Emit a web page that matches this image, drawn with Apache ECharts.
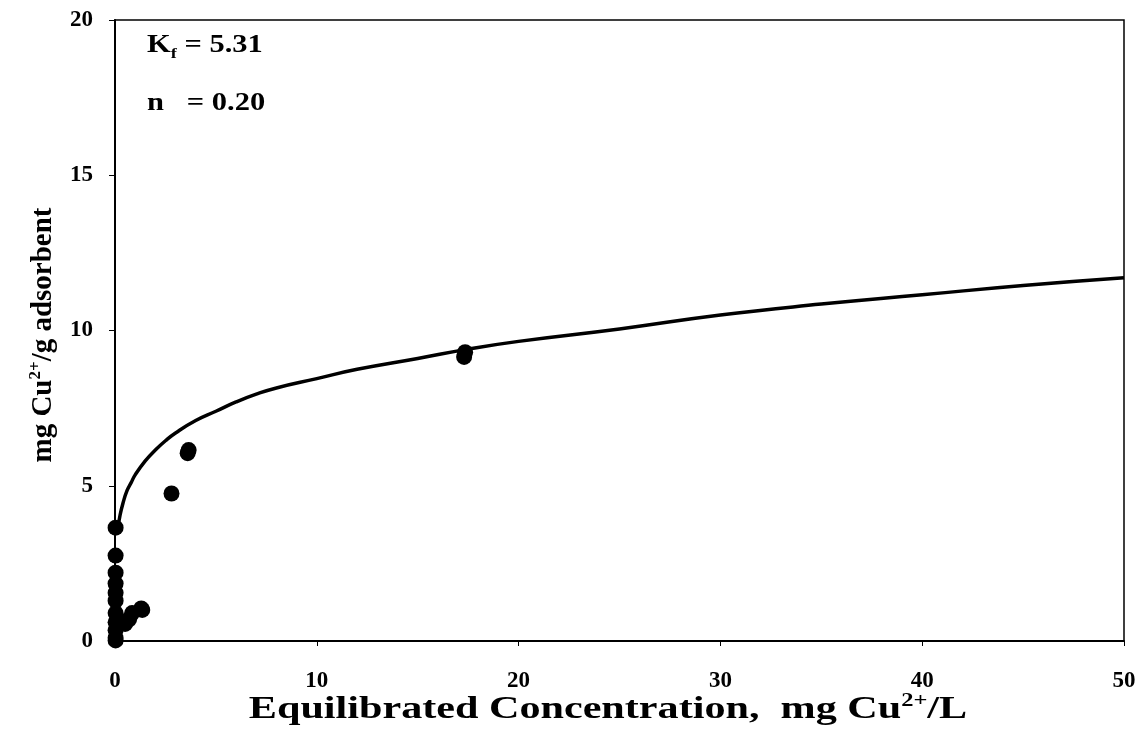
<!DOCTYPE html>
<html>
<head>
<meta charset="utf-8">
<title>Freundlich isotherm Cu2+</title>
<script src="https://cdn.jsdelivr.net/npm/echarts@6.0.0/dist/echarts.min.js"></script>
<style>
  html, body { margin: 0; padding: 0; background: #fff; }
  #chart { width: 1145px; height: 732px; }
</style>
</head>
<body>
<div id="chart"></div>
<script>
// measured points (equilibrated conc. mg/L, uptake mg/g)
const measConc = [0.03, 0.03, 0.03, 0.03, 0.03, 0.03, 0.03, 0.03, 0.03, 0.03, 0.03,
  0.5, 0.7, 0.85, 1.3, 1.35, 2.8, 3.6, 3.65, 17.3, 17.35];
const measQ = [3.65, 2.75, 2.2, 1.85, 1.55, 1.3, 0.9, 0.6, 0.35, 0.1, 0.02,
  0.55, 0.7, 0.9, 1.05, 1.0, 4.75, 6.05, 6.15, 9.15, 9.3];

// fitted curve
const fitConc = [0.15, 0.25, 0.4, 0.6, 0.8, 1, 1.5, 2, 2.5, 3, 4, 5, 6, 7, 8, 10, 12, 15, 17.5,
  20, 25, 30, 35, 40, 45, 50];
const fitQ = [3.65, 4.05, 4.45, 4.85, 5.1, 5.35, 5.8, 6.15, 6.45, 6.7, 7.1, 7.4, 7.7, 7.95, 8.15,
  8.45, 8.75, 9.1, 9.4, 9.65, 10.05, 10.5, 10.85, 11.15, 11.45, 11.7];

const xTicks = [0, 10, 20, 30, 40, 50];
const yTicks = [0, 5, 10, 15, 20];

const serif = 'Liberation Serif';

var myChart = echarts.init(document.getElementById('chart'), null, { width: 1145, height: 732 });

var option = {
  animation: false,
  backgroundColor: '#fff',
  grid: {
    left: 115, right: 21, top: 20, bottom: 91,
    show: true, borderColor: '#000', borderWidth: 1.5
  },
  xAxis: {
    type: 'value',
    min: xTicks[0], max: xTicks[xTicks.length - 1], interval: 10,
    axisLine: { show: true, onZero: false, lineStyle: { color: '#000', width: 2 } },
    axisTick: { show: true, inside: false, length: 5, lineStyle: { color: '#000' } },
    splitLine: { show: false },
    axisLabel: { color: '#000', fontFamily: serif, fontWeight: 'bold', fontSize: 23, margin: 29 }
  },
  yAxis: {
    type: 'value',
    min: yTicks[0], max: yTicks[yTicks.length - 1], interval: 5,
    axisLine: { show: true, lineStyle: { color: '#000', width: 2 } },
    axisTick: { show: true, inside: false, length: 6, lineStyle: { color: '#000' } },
    splitLine: { show: false },
    axisLabel: { color: '#000', fontFamily: serif, fontWeight: 'bold', fontSize: 23, margin: 22 }
  },
  series: [
    {
      type: 'line',
      data: fitConc.map((c, i) => [c, fitQ[i]]),
      showSymbol: false,
      smooth: true,
      lineStyle: { color: '#000', width: 3.5 },
      z: 2
    },
    {
      type: 'scatter',
      data: measConc.map((c, i) => [c, measQ[i]]),
      symbol: 'circle',
      symbolSize: 16,
      itemStyle: { color: '#000', opacity: 1 },
      z: 3
    }
  ],
  graphic: [
    {
      type: 'text',
      left: 147, top: 33,
      scaleX: 1.22,
      style: {
        text: 'K{sub|f} = 5.31',
        font: 'bold 25px ' + serif,
        fill: '#000',
        rich: { sub: { fontSize: 15, fontWeight: 'bold', fontFamily: serif, verticalAlign: 'bottom', lineHeight: 32 } }
      }
    },
    {
      type: 'text',
      left: 147, top: 91,
      scaleX: 1.22,
      style: { text: 'n   = 0.20', font: 'bold 25px ' + serif, fill: '#000' }
    },
    {
      type: 'text',
      x: 608, y: 710,
      scaleX: 1.36,
      style: {
        text: 'Equilibrated Concentration,  mg Cu{sup|2+}/L',
        font: 'bold 31px ' + serif,
        fill: '#000',
        align: 'center', verticalAlign: 'middle',
        rich: { sup: { fontSize: 18, fontWeight: 'bold', fontFamily: serif, verticalAlign: 'top', lineHeight: 36 } }
      }
    },
    {
      type: 'text',
      x: 44, y: 335,
      rotation: Math.PI / 2,
      style: {
        text: 'mg Cu{sup|2+}/g adsorbent',
        font: 'bold 29px ' + serif,
        fill: '#000',
        align: 'center', verticalAlign: 'middle',
        rich: { sup: { fontSize: 17, fontWeight: 'bold', fontFamily: serif, verticalAlign: 'top', lineHeight: 34 } }
      }
    }
  ]
};

myChart.setOption(option);
</script>
</body>
</html>
